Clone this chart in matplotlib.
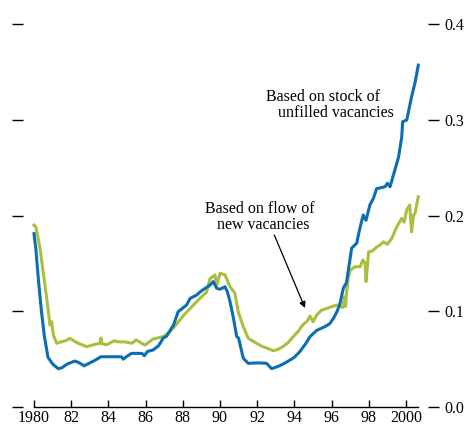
import matplotlib
matplotlib.use('Agg')
import matplotlib.pyplot as plt

# vacancy rates (year, value)
stock_years = [1980.0, 1980.1, 1980.25, 1980.4, 1980.55, 1980.75, 1981.0, 1981.3, 1981.5, 1981.8,
               1982.2, 1982.45, 1982.7, 1983.0, 1983.3, 1983.6, 1984.0, 1984.4, 1984.7, 1984.8,
               1985.0, 1985.25, 1985.8, 1985.93, 1986.1, 1986.4, 1986.7, 1986.95, 1987.13, 1987.5,
               1987.76, 1987.85, 1988.2, 1988.4, 1988.75, 1988.92, 1989.2, 1989.45, 1989.64, 1989.82,
               1990.0, 1990.27, 1990.4, 1990.54, 1990.7, 1990.9, 1991.0, 1991.25, 1991.52, 1991.97,
               1992.2, 1992.5, 1992.78, 1993.2, 1993.5, 1993.76, 1994.0, 1994.3, 1994.6, 1994.84,
               1995.2, 1995.65, 1995.9, 1996.1, 1996.3, 1996.45, 1996.63, 1996.8, 1997.08, 1997.35,
               1997.5, 1997.7, 1997.85, 1998.06, 1998.25, 1998.42, 1998.87, 1999.0, 1999.14, 1999.32,
               1999.6, 1999.77, 1999.82, 2000.04, 2000.3, 2000.5, 2000.66]
stock_vals = [0.181, 0.165, 0.130, 0.100, 0.075, 0.052, 0.045, 0.040, 0.041, 0.045,
              0.048, 0.046, 0.043, 0.046, 0.049, 0.0525, 0.0525, 0.0525, 0.0525, 0.050,
              0.053, 0.056, 0.056, 0.0536, 0.058, 0.0595, 0.064, 0.072, 0.074, 0.0856,
              0.100, 0.101, 0.1065, 0.1135, 0.117, 0.120, 0.124, 0.127, 0.131, 0.124,
              0.123, 0.1256, 0.120, 0.110, 0.095, 0.0735, 0.072, 0.051, 0.0456, 0.046,
              0.046, 0.0456, 0.040, 0.043, 0.046, 0.049, 0.052, 0.058, 0.066, 0.0735,
              0.080, 0.084, 0.087, 0.0926, 0.100, 0.108, 0.124, 0.130, 0.166, 0.171,
              0.185, 0.2005, 0.195, 0.211, 0.218, 0.228, 0.230, 0.2336, 0.230, 0.242,
              0.261, 0.282, 0.298, 0.2997, 0.324, 0.340, 0.357]

flow_years = [1980.0, 1980.1, 1980.2, 1980.32, 1980.5, 1980.68, 1980.86, 1980.95, 1981.04, 1981.22,
              1981.45, 1981.67, 1981.94, 1982.15, 1982.38, 1982.83, 1983.28, 1983.55, 1983.6, 1983.65,
              1983.9, 1984.3, 1984.6, 1984.9, 1985.25, 1985.5, 1985.75, 1985.97, 1986.2, 1986.4,
              1986.95, 1987.3, 1987.6, 1987.85, 1988.1, 1988.4, 1988.92, 1989.28, 1989.46, 1989.73,
              1989.82, 1990.0, 1990.27, 1990.54, 1990.8, 1990.98, 1991.25, 1991.52, 1991.97, 1992.3,
              1992.6, 1992.84, 1993.1, 1993.37, 1993.65, 1993.91, 1994.2, 1994.45, 1994.7, 1994.84,
              1995.0, 1995.2, 1995.45, 1995.9, 1996.27, 1996.6, 1996.7, 1996.75, 1996.8, 1996.9,
              1997.0, 1997.26, 1997.53, 1997.68, 1997.8, 1997.85, 1997.99, 1998.2, 1998.42, 1998.6,
              1998.78, 1999.0, 1999.23, 1999.5, 1999.77, 1999.9, 2000.04, 2000.2, 2000.3, 2000.4,
              2000.48, 2000.66]
flow_vals = [0.190, 0.188, 0.178, 0.166, 0.140, 0.114, 0.0856, 0.089, 0.075, 0.0665,
             0.068, 0.069, 0.0717, 0.069, 0.0665, 0.063, 0.0654, 0.0665, 0.072, 0.066,
             0.065, 0.069, 0.068, 0.068, 0.0665, 0.070, 0.067, 0.0647, 0.068, 0.071,
             0.0735, 0.0787, 0.085, 0.091, 0.097, 0.103, 0.1135, 0.120, 0.134, 0.138,
             0.127, 0.1396, 0.138, 0.1256, 0.119, 0.0995, 0.084, 0.0717, 0.0665, 0.063,
             0.061, 0.0588, 0.060, 0.063, 0.067, 0.0728, 0.079, 0.0856, 0.090, 0.095,
             0.089, 0.096, 0.101, 0.104, 0.1065, 0.104, 0.115, 0.105, 0.119, 0.135,
             0.143, 0.1465, 0.1465, 0.1535, 0.150, 0.131, 0.162, 0.163, 0.167, 0.169,
             0.1725, 0.170, 0.176, 0.188, 0.197, 0.193, 0.206, 0.211, 0.183, 0.200,
             0.202, 0.2196]

x_ticks = [1980, 1982, 1984, 1986, 1988, 1990, 1992, 1994, 1996, 1998, 2000]
x_labels = ['1980', '82', '84', '86', '88', '90', '92', '94', '96', '98', '2000']
y_ticks = [0.0, 0.1, 0.2, 0.3, 0.4]
y_labels = ['0.0', '0.1', '0.2', '0.3', '0.4']

plt.rcParams['font.family'] = ['Liberation Serif', 'DejaVu Serif']

fig = plt.figure(figsize=(4.67, 4.26), dpi=100)
ax = fig.add_axes([23 / 467, 19 / 426, 405 / 467, 383 / 426])

ax.plot(flow_years, flow_vals, color='#a8bf3f', lw=2.2, solid_joinstyle='round')
ax.plot(stock_years, stock_vals, color='#0b6eb2', lw=2.2, solid_joinstyle='round')

ax.set_xlim(1980 - 11 / 18.6, 2000 + 22 / 18.6)
ax.set_ylim(0, 0.4)

for s in ['top', 'left', 'right']:
    ax.spines[s].set_visible(False)
ax.spines['bottom'].set_bounds(1980, 2000.65)
ax.spines['bottom'].set_linewidth(1.0)

ax.set_xticks(x_ticks)
ax.set_xticklabels(x_labels, fontsize=11.5)
ax.tick_params(axis='x', direction='in', length=5, width=1.0, pad=2)

ax.set_yticks(y_ticks)
ax.set_yticklabels(y_labels, fontsize=11.5)
ax.tick_params(axis='y', direction='out', length=8, width=1.0, pad=4,
               left=True, right=True, labelleft=False, labelright=True)

# annotations (second line indented a little, as in the original)
ax.text(1992.47, 0.3154, 'Based on stock of\n   unfilled vacancies', fontsize=11.5,
        ha='left', va='center', multialignment='left', linespacing=1.0)
ax.text(1989.19, 0.1984, 'Based on flow of\n   new vacancies', fontsize=11.5,
        ha='left', va='center', multialignment='left', linespacing=0.95)
ax.annotate('', xy=(1994.57, 0.1034), xytext=(1992.92, 0.1796),
            arrowprops=dict(arrowstyle='-|>', color='black', lw=0.9,
                            mutation_scale=9, shrinkA=0, shrinkB=0))

plt.savefig('out.png', dpi=100)
